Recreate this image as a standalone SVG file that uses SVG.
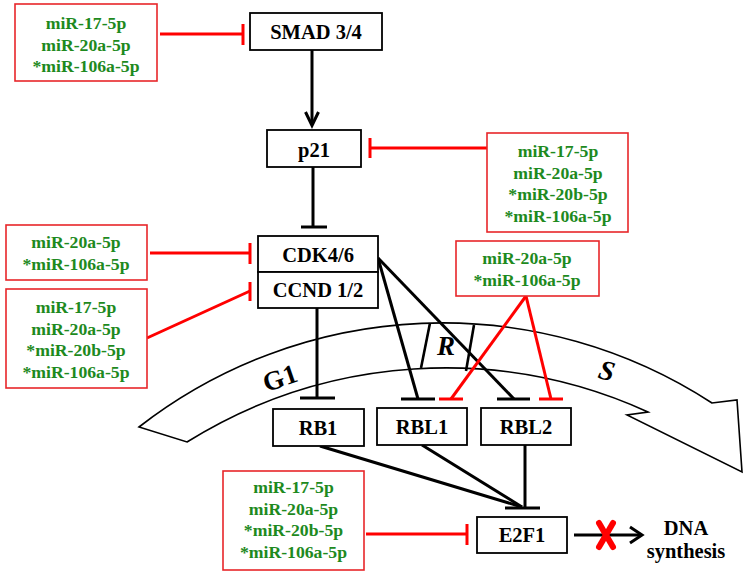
<svg xmlns="http://www.w3.org/2000/svg" width="746" height="575" viewBox="0 0 746 575">
<style>
.node{fill:#fff;stroke:#000;stroke-width:1.8}
.mir{fill:#fff;stroke:#e8262a;stroke-width:1.6}
.nt{font-family:"Liberation Serif","Times New Roman",serif;font-weight:bold;font-size:20.5px;fill:#000;text-anchor:middle}
.mt{font-family:"Liberation Serif","Times New Roman",serif;font-weight:bold;font-size:17.7px;fill:#1e8a1e;text-anchor:middle}
.blk{stroke:#000;stroke-width:3;fill:none}
.red{stroke:#ff0000;stroke-width:3;fill:none}
.ph{font-family:"Liberation Serif","Times New Roman",serif;font-weight:bold;fill:#000;text-anchor:middle}
</style>
<rect width="746" height="575" fill="#fff"/>
<g id="cycle-arc">
<path d="M139,427 A494,494 0 0 1 712,403 L737,400 L742,472 L627,415 L648,412 A488,488 0 0 0 187,442 Z" fill="#fff" stroke="#000" stroke-width="1.6"/>
<line x1="430" y1="323" x2="421" y2="368" stroke="#000" stroke-width="2.6"/>
<line x1="474" y1="325" x2="466" y2="371" stroke="#000" stroke-width="2.6"/>
<text class="ph" x="280" y="387" font-size="27" transform="rotate(-19 280 378)">G1</text>
<text class="ph" x="446" y="355" font-size="27" font-style="italic">R</text>
<text class="ph" x="607" y="380" font-size="28" font-style="italic" transform="rotate(14 607 370)">S</text>
</g>
<g id="connectors">
<line class="red" x1="160" y1="34" x2="243" y2="34"/>
<line class="red" x1="243" y1="24" x2="243" y2="45"/>
<line class="blk" x1="312" y1="50" x2="312" y2="125"/>
<polyline class="blk" points="305.5,112 312,125.5 318.5,112"/>
<line class="red" x1="370" y1="148" x2="487" y2="148"/>
<line class="red" x1="370" y1="138" x2="370" y2="158"/>
<line class="blk" x1="313" y1="167" x2="313" y2="227"/>
<line class="blk" x1="301" y1="227" x2="327" y2="227"/>
<line class="red" x1="150" y1="253" x2="250" y2="253"/>
<line class="red" x1="250" y1="243" x2="250" y2="264"/>
<line class="red" x1="147" y1="338" x2="250" y2="291"/>
<line class="red" x1="250" y1="282" x2="250" y2="301"/>
<line class="blk" x1="317" y1="308" x2="317" y2="398"/>
<line class="blk" x1="300" y1="398" x2="335" y2="398"/>
<line class="blk" x1="378" y1="258" x2="418" y2="399"/>
<line class="blk" x1="401" y1="399" x2="435" y2="399"/>
<line class="blk" x1="378" y1="258" x2="514" y2="399"/>
<line class="blk" x1="497" y1="399" x2="530" y2="399"/>
<line class="red" x1="526" y1="296" x2="451" y2="399"/>
<line class="red" x1="439" y1="399" x2="463" y2="399"/>
<line class="red" x1="526" y1="296" x2="551" y2="399"/>
<line class="red" x1="539" y1="399" x2="563" y2="399"/>
<line class="blk" x1="320" y1="446" x2="522" y2="507"/>
<line class="blk" x1="422" y1="445" x2="522" y2="507"/>
<line class="blk" x1="525" y1="445" x2="525" y2="508"/>
<line class="blk" x1="505" y1="508" x2="540" y2="508"/>
<line class="red" x1="366" y1="534" x2="467" y2="534"/>
<line class="red" x1="467" y1="524" x2="467" y2="545"/>
<line class="blk" x1="574" y1="535" x2="641" y2="535"/>
<polyline class="blk" points="630,527 642,535 630,543"/>
<g stroke="#ff0000" stroke-width="6" stroke-linecap="round">
<line x1="599" y1="523" x2="613" y2="547"/>
<line x1="613" y1="523" x2="599" y2="547"/>
</g>
</g>
<g id="mir-smad">
<rect class="mir" x="15" y="4" width="142" height="77"/>
<text class="mt" x="86" y="29">miR-17-5p</text>
<text class="mt" x="86" y="50.5">miR-20a-5p</text>
<text class="mt" x="86" y="72">*miR-106a-5p</text>
</g>
<g id="smad">
<rect class="node" x="250" y="13" width="132" height="37"/>
<text class="nt" x="316" y="39">SMAD 3/4</text>
</g>
<g id="p21">
<rect class="node" x="267" y="130" width="94" height="37"/>
<text class="nt" x="314" y="157">p21</text>
</g>
<g id="mir-p21">
<rect class="mir" x="487" y="133" width="141" height="99"/>
<text class="mt" x="558" y="157">miR-17-5p</text>
<text class="mt" x="558" y="178.5">miR-20a-5p</text>
<text class="mt" x="558" y="200">*miR-20b-5p</text>
<text class="mt" x="558" y="221.5">*miR-106a-5p</text>
</g>
<g id="cdk46">
<rect class="node" x="258" y="236" width="120" height="36"/>
<text class="nt" x="318" y="262">CDK4/6</text>
</g>
<g id="ccnd12">
<rect class="node" x="258" y="272" width="120" height="36"/>
<text class="nt" x="318" y="297">CCND 1/2</text>
</g>
<g id="mir-cdk">
<rect class="mir" x="6" y="225" width="141" height="55"/>
<text class="mt" x="76" y="248">miR-20a-5p</text>
<text class="mt" x="76" y="270">*miR-106a-5p</text>
</g>
<g id="mir-ccnd">
<rect class="mir" x="6" y="289" width="141" height="99"/>
<text class="mt" x="76" y="313">miR-17-5p</text>
<text class="mt" x="76" y="334.5">miR-20a-5p</text>
<text class="mt" x="76" y="356">*miR-20b-5p</text>
<text class="mt" x="76" y="377.5">*miR-106a-5p</text>
</g>
<g id="mir-rbl">
<rect class="mir" x="456" y="241" width="143" height="55"/>
<text class="mt" x="527" y="264">miR-20a-5p</text>
<text class="mt" x="527" y="285.5">*miR-106a-5p</text>
</g>
<g id="rb1">
<rect class="node" x="273" y="409" width="91" height="37"/>
<text class="nt" x="318" y="435">RB1</text>
</g>
<g id="rbl1">
<rect class="node" x="377" y="408" width="90" height="37"/>
<text class="nt" x="422" y="434">RBL1</text>
</g>
<g id="rbl2">
<rect class="node" x="481" y="408" width="90" height="37"/>
<text class="nt" x="526" y="434">RBL2</text>
</g>
<g id="mir-e2f1">
<rect class="mir" x="223" y="471" width="141" height="99"/>
<text class="mt" x="293.5" y="493">miR-17-5p</text>
<text class="mt" x="293.5" y="514.5">miR-20a-5p</text>
<text class="mt" x="293.5" y="536">*miR-20b-5p</text>
<text class="mt" x="293.5" y="557.5">*miR-106a-5p</text>
</g>
<g id="e2f1">
<rect class="node" x="477" y="517" width="90" height="36"/>
<text class="nt" x="522" y="542">E2F1</text>
</g>
<g id="dna">
<text class="nt" x="686" y="535" font-size="21">DNA</text>
<text class="nt" x="686" y="558" font-size="21">synthesis</text>
</g>
</svg>
